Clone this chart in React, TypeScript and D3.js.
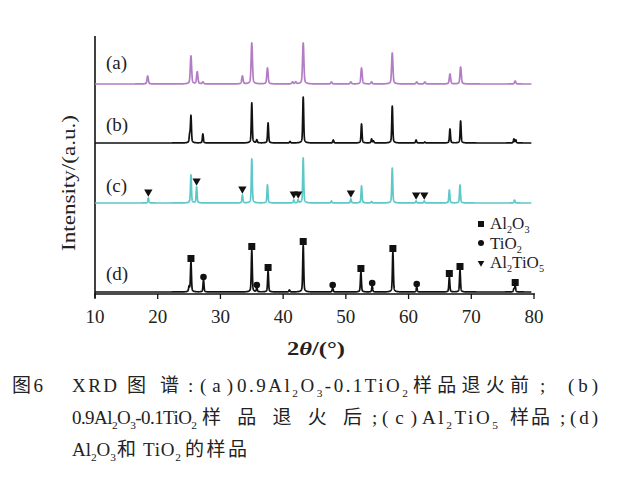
import React from "react";
import * as d3 from "d3";

// peak positions (2θ, deg) and heights (a.u.)
const peaksA: [number, number][] = [
  [18.4, 8], [25.3, 28], [26.3, 12], [27.2, 2], [33.5, 8], [35.0, 41], [37.5, 16],
  [41.5, 2], [42.0, 2], [43.2, 41], [47.7, 2], [50.8, 2], [52.5, 16], [54.1, 2],
  [57.4, 31], [61.3, 2], [62.6, 2], [66.6, 10], [68.3, 17], [77.0, 3],
];
const peaksB: [number, number][] = [
  [25.1, 8], [25.3, 27], [27.2, 9], [35.0, 40], [35.8, 3], [37.6, 20], [41.1, 1.5],
  [43.2, 46], [48.0, 3], [52.5, 19], [54.1, 4], [54.4, 2], [57.4, 37], [61.2, 3],
  [62.6, 1], [66.6, 14], [68.3, 22], [76.8, 4], [77.1, 3],
];
const peaksC: [number, number][] = [
  [18.5, 5], [25.3, 28], [26.2, 16], [33.5, 8], [35.0, 44], [37.5, 18], [41.7, 3],
  [42.4, 3], [43.2, 45], [47.7, 2], [50.8, 4], [52.5, 17], [54.1, 1.5], [57.4, 35],
  [61.2, 2], [62.5, 2], [66.5, 13], [68.2, 18], [76.9, 3],
];
const peaksD: [number, number][] = [
  [25.0, 5], [25.3, 30], [27.3, 12], [35.0, 42], [35.8, 4], [37.6, 21], [41.0, 2],
  [43.2, 47], [47.9, 4], [52.4, 20], [54.2, 6], [57.5, 40], [61.3, 5], [66.5, 15],
  [68.2, 22], [76.8, 3], [77.0, 6],
];

const seriesLabels = ["(a)", "(b)", "(c)", "(d)"];
const seriesOffsets = [210, 151, 91, 2];

// phase markers
const squaresD = [25.3, 35.0, 37.6, 43.2, 52.4, 57.5, 66.5, 68.2, 77.0];
const circlesD = [27.3, 35.8, 47.9, 54.2, 61.3];
const trianglesC = [18.5, 26.2, 33.5, 41.7, 42.4, 50.8, 61.2, 62.5];
const legendNames = ["Al_2O_3", "TiO_2", "Al_2TiO_5"];

const xTicks = [10, 20, 30, 40, 50, 60, 70, 80];

// caption pieces: [text, x, width] per line
const caption1: [string, number, number][] = [
  ["图6", 12, 31], ["XRD", 72, 45], ["图", 127, 19], ["谱", 160, 19], [":", 188, 4],
  ["(a)", 200, 33], ["0.9Al_2O_3-0.1TiO_2", 237, 171], ["样品退火前", 413, 116],
  [";", 540, 5], ["(b)", 568, 30],
];
const caption2: [string, number, number][] = [
  ["0.9Al_2O_3-0.1TiO_2", 72, 125], ["样品退火后", 202, 160], [";", 372, 5],
  ["(c)", 382, 35], ["Al_2TiO_5", 422, 76], ["样品", 510, 40], [";", 560, 5],
  ["(d)", 570, 28],
];
const caption3: [string, number, number][] = [
  ["Al_2O_3", 72, 44], ["和", 117, 19], ["TiO_2", 143, 38], ["的样品", 185, 62],
];

const colors = ["#b27dc4", "#111111", "#5ec8c9", "#111111"];
const widths = [0.1, 0.075, 0.075, 0.075];

const W = 640;
const H = 482;
const serif = "'Liberation Serif', 'Times New Roman', serif";
const captionFont = "'Liberation Serif', 'Noto Sans CJK SC', serif";

const x = d3.scaleLinear().domain([10, 80]).range([95, 534]);
const y = d3.scaleLinear().domain([0, 260]).range([294, 34]);

const profile = (peaks: [number, number][], s: number, t: number) =>
  peaks.reduce((acc, [c, h]) => {
    const g = Math.exp(-0.5 * ((t - c) / s) ** 2);
    const l = 1 / (1 + ((t - c) / (s * 2.5)) ** 2);
    return acc + h * (0.85 * g + 0.15 * l);
  }, 0);

const grid = d3.range(10, 79.6, 0.02);
const allPeaks = [peaksA, peaksB, peaksC, peaksD];

const topAt = (peaks: [number, number][], t: number) =>
  d3.max(peaks.filter((p) => Math.abs(p[0] - t) < 0.2), (p) => p[1]) ?? 0;

// "Al_2O_3" -> tspans with subscripts
function chem(str: string, size: number) {
  const parts = str.split(/(_\d)/).filter((p) => p !== "");
  const shift = size * 0.25;
  let down = false;
  return parts.map((p, i) => {
    if (p.startsWith("_")) {
      down = true;
      return (
        <tspan key={i} dy={shift} fontSize={size * 0.6}>
          {p.slice(1)}
        </tspan>
      );
    }
    const dy = down ? -shift : 0;
    down = false;
    return (
      <tspan key={i} dy={dy} fontSize={size}>
        {p}
      </tspan>
    );
  });
}

export default function App() {
  const paths = allPeaks.map((peaks, i) => {
    const gen = d3
      .line<number>()
      .x((t) => x(t))
      .y((t) => y(seriesOffsets[i] + profile(peaks, widths[i], t)));
    return gen(grid) ?? "";
  });

  const tri = d3.symbol().type(d3.symbolTriangle).size(30)() ?? "";

  const captionLine = (items: [string, number, number][], base: number) =>
    items.map(([s, px, w], i) => (
      <text
        key={base + "-" + i}
        x={px}
        y={base}
        fontSize={19}
        textLength={w}
        lengthAdjust="spacing"
      >
        {chem(s, 19)}
      </text>
    ));

  return (
    <svg
      width={W}
      height={H}
      style={{ position: "absolute", left: 0, top: 0, background: "#fff" }}
    >
      {/* axes */}
      <line x1={95} x2={95} y1={36} y2={298} stroke="#111" strokeWidth={1.6} />
      <line x1={94} x2={535} y1={294} y2={294} stroke="#111" strokeWidth={1.6} />
      {xTicks.map((t) => (
        <g key={t}>
          <line x1={x(t)} x2={x(t)} y1={294} y2={299} stroke="#111" strokeWidth={1.3} />
          <text x={x(t)} y={323} textAnchor="middle" fontFamily={serif} fontSize={19} fill="#222">
            {t}
          </text>
        </g>
      ))}
      <text
        transform="translate(75,183) rotate(-90)"
        textAnchor="middle"
        fontFamily={serif}
        fontSize={19}
        textLength={136}
        lengthAdjust="spacingAndGlyphs"
        fill="#222"
      >
        Intensity/(a.u.)
      </text>
      <text
        x={287}
        y={355}
        fontFamily={serif}
        fontSize={18}
        fontWeight="bold"
        fill="#222"
        textLength={58}
        lengthAdjust="spacingAndGlyphs"
      >
        2<tspan fontStyle="italic">θ</tspan>/(°)
      </text>

      {/* patterns */}
      {paths.map((d, i) => (
        <path key={i} d={d} fill="none" stroke={colors[i]} strokeWidth={1.7} strokeLinejoin="round" />
      ))}
      {seriesLabels.map((s, i) => (
        <text
          key={s}
          x={106}
          y={y(seriesOffsets[i]) - [15, 12, 11, 12][i]}
          fontFamily={serif}
          fontSize={19}
          fill="#222"
        >
          {s}
        </text>
      ))}

      {/* markers */}
      {squaresD.map((t) => (
        <rect
          key={"s" + t}
          x={x(t) - 3.5}
          y={y(seriesOffsets[3] + topAt(peaksD, t)) - 7}
          width={7}
          height={7}
          fill="#111"
        />
      ))}
      {circlesD.map((t) => (
        <circle key={"c" + t} cx={x(t)} cy={y(seriesOffsets[3] + topAt(peaksD, t)) - 3} r={3.3} fill="#111" />
      ))}
      {trianglesC.map((t) => (
        <path
          key={"t" + t}
          d={tri}
          transform={`translate(${x(t)},${y(seriesOffsets[2] + topAt(peaksC, t)) - 6}) rotate(180)`}
          fill="#111"
        />
      ))}

      {/* legend */}
      <g fontFamily={serif} fill="#222">
        <rect x={478} y={221} width={6} height={6} fill="#111" />
        <circle cx={481} cy={243} r={3} fill="#111" />
        <path d={tri} transform="translate(481,263) rotate(180) scale(0.8)" fill="#111" />
        {legendNames.map((n, i) => (
          <text key={n} x={490} y={229 + i * 19.5} fontSize={17}>
            {chem(n, 17)}
          </text>
        ))}
      </g>

      {/* caption */}
      <g fontFamily={captionFont} fill="#222">
        {captionLine(caption1, 392)}
        {captionLine(caption2, 424)}
        {captionLine(caption3, 456)}
      </g>
    </svg>
  );
}
